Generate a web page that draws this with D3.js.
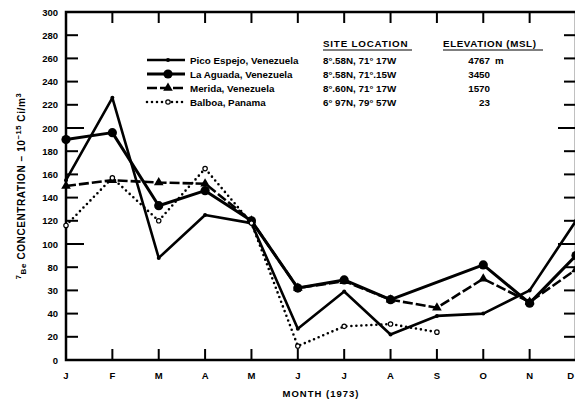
<!DOCTYPE html>
<html>
<head>
<meta charset="utf-8">
<script src="https://cdn.jsdelivr.net/npm/d3@7"></script>
<style>
  html, body { margin: 0; padding: 0; background: #fff; }
  svg { display: block; }
  text { font-family: "Liberation Sans", Arial, sans-serif; font-weight: bold; fill: #000; }
</style>
</head>
<body>
<svg id="chart" width="575" height="399"></svg>
<script>
// Monthly 7Be concentrations, 1973 (10^-15 Ci/m^3)
const months = ["J", "F", "M", "A", "M", "J", "J", "A", "S", "O", "N", "D"];
const picoEspejo = [155, 226, 88, 125, 118, 27, 59, 22, 38, 40, 60, 120];
const laAguada   = [190, 196, 133, 146, 120, 62, 69, 52, null, 82, 49, 90];
const merida     = [150, 155, 153, 152, 120, 62, 68, 52, 45, 70, 50, 78];
const balboa     = [116, 157, 120, 165, 118, 12, 29, 31, 24, null, null, null];

const yTickValues = [0, 20, 40, 60, 80, 100, 120, 140, 160, 180, 200, 220, 240, 260, 280, 300];
const yTickLabels = ["0", "20", "40", "30", "80", "100", "120", "140", "160", "180", "200", "220", "240", "260", "280", "300"];

const siteNames  = ["Pico Espejo, Venezuela", "La Aguada, Venezuela", "Merida, Venezuela", "Balboa, Panama"];
const siteCoords = ["8°.58N, 71° 17W", "8°.58N, 71°.15W", "8°.60N, 71° 17W", "6° 97N, 79° 57W"];
const siteElev   = ["4767 m", "3450", "1570", "23"];

const svg = d3.select("#chart");
const m = { left: 66, right: 576, top: 12, bottom: 360 };
const W = 575;

const x = d3.scalePoint().domain(d3.range(months.length)).range([m.left, m.right]);
const y = d3.scaleLinear().domain([0, 300]).range([m.bottom, m.top]);

// Frame
svg.append("rect")
  .attr("x", m.left).attr("y", m.top)
  .attr("width", m.right - m.left).attr("height", m.bottom - m.top)
  .attr("fill", "none").attr("stroke", "#000").attr("stroke-width", 2.5);

// Inward ticks on all four sides
const ticks = svg.append("g").attr("stroke", "#000").attr("stroke-width", 2);
yTickValues.filter(v => v > 0 && v < 300).forEach(v => {
  const len = (v % 100 === 0) ? 18 : 12;
  ticks.append("line").attr("x1", m.left).attr("x2", m.left + len).attr("y1", y(v)).attr("y2", y(v));
  ticks.append("line").attr("x1", m.right).attr("x2", m.right - len).attr("y1", y(v)).attr("y2", y(v));
});
d3.range(1, months.length - 1).forEach(i => {
  ticks.append("line").attr("x1", x(i)).attr("x2", x(i)).attr("y1", m.bottom).attr("y2", m.bottom - 11);
  ticks.append("line").attr("x1", x(i)).attr("x2", x(i)).attr("y1", m.top).attr("y2", m.top + 11);
});

// Tick labels
svg.append("g").selectAll("text").data(yTickValues).join("text")
  .attr("x", 58).attr("y", d => y(d) + 3.5)
  .attr("text-anchor", "end").attr("font-size", 9.5)
  .text((d, i) => yTickLabels[i]);

// month letters; the last one is kept inside the page edge
svg.append("g").selectAll("text").data(months).join("text")
  .attr("x", (d, i) => Math.min(x(i), W - 1))
  .attr("y", 379)
  .attr("text-anchor", (d, i) => x(i) > W - 4 ? "end" : "middle")
  .attr("font-size", 9.5)
  .text(d => d);

svg.append("text").attr("x", 321).attr("y", 397).attr("text-anchor", "middle")
  .attr("font-size", 9.5).attr("letter-spacing", 1).text("MONTH (1973)");

// Y axis title
const yt = svg.append("text").attr("transform", "translate(25,186) rotate(-90)")
  .attr("text-anchor", "middle").attr("font-size", 10).attr("letter-spacing", 0.6);
yt.append("tspan").attr("font-size", 7.5).attr("dy", -4).text("7");
yt.append("tspan").attr("font-size", 8).attr("dy", 5).text("Be");
yt.append("tspan").attr("dy", -1).text(" CONCENTRATION – 10");
yt.append("tspan").attr("font-size", 7.5).attr("dy", -4).text("−15");
yt.append("tspan").attr("dy", 4).text(" Ci/m");
yt.append("tspan").attr("font-size", 7.5).attr("dy", -4).text("3");

// Series
const series = [
  { values: picoEspejo, width: 2.6, dash: null, marker: "dot" },
  { values: laAguada,   width: 3,   dash: null, marker: "circle" },
  { values: merida,     width: 2.6, dash: "10,3", marker: "triangle" },
  { values: balboa,     width: 2.6, dash: "0,5", marker: "open" }
];

function drawMarker(g, kind, cx, cy) {
  if (kind === "dot") {
    g.append("circle").attr("cx", cx).attr("cy", cy).attr("r", 2).attr("fill", "#000");
  } else if (kind === "circle") {
    g.append("circle").attr("cx", cx).attr("cy", cy).attr("r", 4.6).attr("fill", "#000");
  } else if (kind === "triangle") {
    g.append("path").attr("d", d3.symbol(d3.symbolTriangle, 40)()).attr("transform", `translate(${cx},${cy})`).attr("fill", "#000");
  } else {
    g.append("circle").attr("cx", cx).attr("cy", cy).attr("r", 2.2).attr("fill", "#fff").attr("stroke", "#000").attr("stroke-width", 1.2);
  }
}

const line = d3.line().x(d => x(d.i)).y(d => y(d.v));
const plot = svg.append("g");
series.forEach(s => {
  // months without a reading are skipped; the line joins the neighbouring readings
  const pts = s.values.map((v, i) => ({ i, v })).filter(d => d.v != null);
  plot.append("path")
    .attr("d", line(pts))
    .attr("fill", "none").attr("stroke", "#000")
    .attr("stroke-width", s.width)
    .attr("stroke-linecap", s.dash === "0,5" ? "round" : "butt")
    .attr("stroke-linejoin", "round")
    .attr("stroke-dasharray", s.dash);
  pts.forEach(d => drawMarker(plot, s.marker, x(d.i), y(d.v)));
});

// Legend
const leg = svg.append("g");
const rowY = [60, 74, 88, 102];
series.forEach((s, i) => {
  leg.append("line").attr("x1", 147).attr("x2", 185).attr("y1", rowY[i]).attr("y2", rowY[i])
    .attr("stroke", "#000").attr("stroke-width", s.width)
    .attr("stroke-linecap", s.dash === "0,5" ? "round" : "butt")
    .attr("stroke-dasharray", s.dash);
  drawMarker(leg, s.marker, 168, rowY[i]);
  leg.append("text").attr("x", 190).attr("y", rowY[i] + 3.5).attr("font-size", 9.8).text(siteNames[i]);
  leg.append("text").attr("x", 323).attr("y", rowY[i] + 3.5).attr("font-size", 9.8).text(siteCoords[i]);
  leg.append("text").attr("x", 490).attr("y", rowY[i] + 3.5).attr("font-size", 9.8)
    .attr("text-anchor", "end").text(siteElev[i].replace(" m", ""));
  if (siteElev[i].endsWith(" m")) {
    leg.append("text").attr("x", 495).attr("y", rowY[i] + 3.5).attr("font-size", 9.8).text("m");
  }
});
leg.append("text").attr("x", 323).attr("y", 47).attr("font-size", 9.8).attr("letter-spacing", 0.8).text("SITE LOCATION");
leg.append("text").attr("x", 443).attr("y", 47).attr("font-size", 9.8).attr("letter-spacing", 0.6).text("ELEVATION (MSL)");
leg.append("line").attr("x1", 323).attr("x2", 412).attr("y1", 50).attr("y2", 50).attr("stroke", "#000").attr("stroke-width", 1.2);
leg.append("line").attr("x1", 443).attr("x2", 543).attr("y1", 50).attr("y2", 50).attr("stroke", "#000").attr("stroke-width", 1.2);
</script>
</body>
</html>
